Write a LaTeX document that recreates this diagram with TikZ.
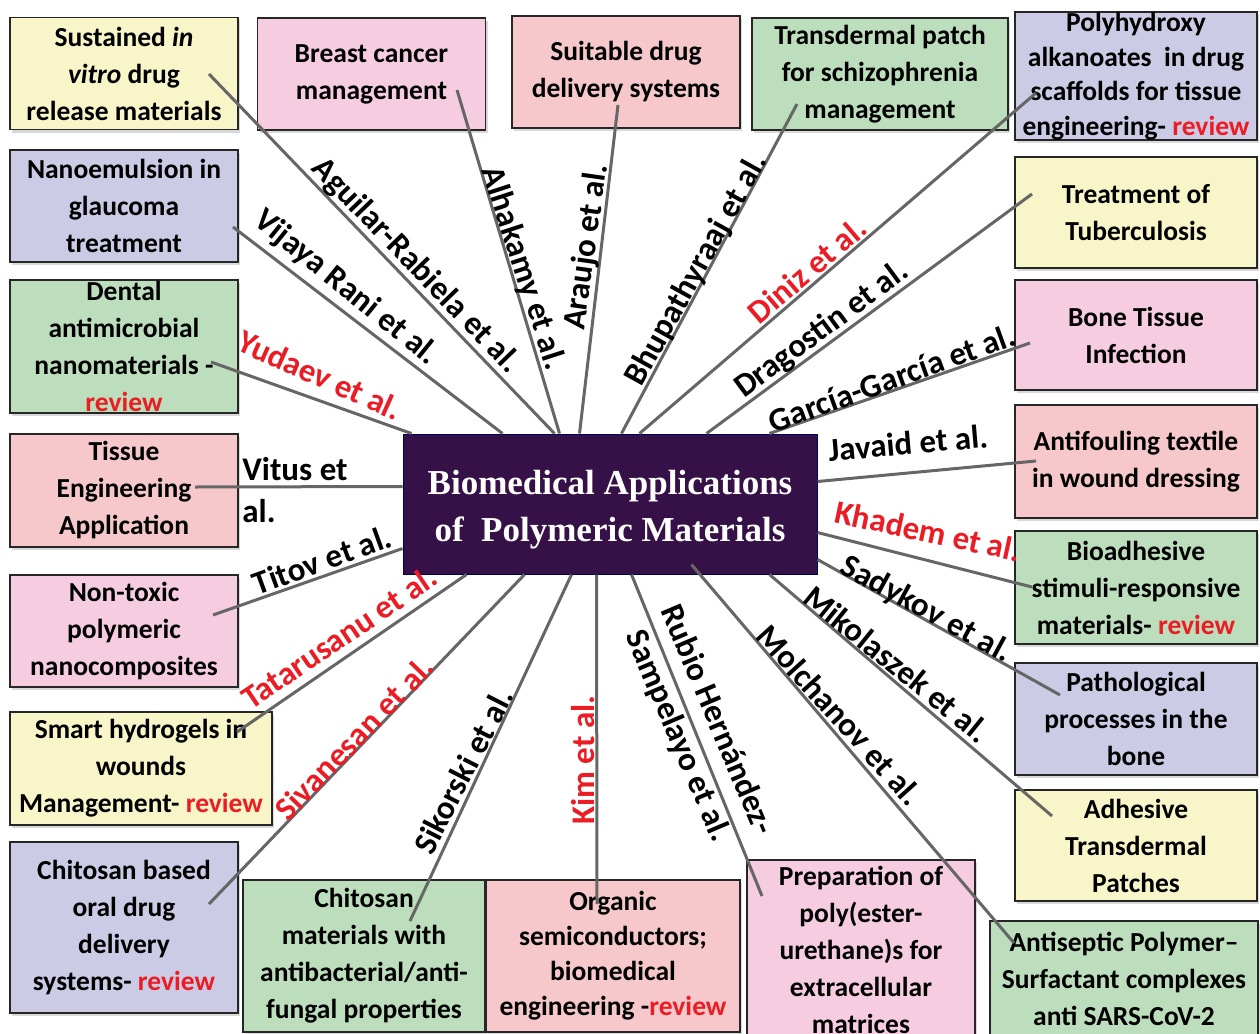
\documentclass[tikz,border=0pt]{standalone}
\usepackage{fontspec}
\setmainfont{Carlito}
\newfontfamily\hubfont{Liberation Serif}
\usepackage{tikz}
\usetikzlibrary{shadows}
\definecolor{paleyellow}{HTML}{F8F6C8}
\definecolor{palepink}{HTML}{F6CCE0}
\definecolor{salmon}{HTML}{F6C8CC}
\definecolor{palegreen}{HTML}{BCDEBC}
\definecolor{lavender}{HTML}{CCCBE6}
\definecolor{hubpurple}{HTML}{361148}
\definecolor{revred}{HTML}{EC1C24}
\newcommand{\revw}[1]{\textcolor{revred}{#1}}

\begin{document}
\begin{tikzpicture}[x=1pt, y=-1pt,
            every node/.style={inner sep=0pt},
            box/.style={draw=black!85, line width=1.6pt, align=center,
                minimum width=228pt, minimum height=112pt,
                font=\bfseries\fontsize{27.5}{37}\selectfont,
                drop shadow={opacity=0.3, shadow xshift=2pt, shadow yshift=-3pt}},
            yel/.style={box, fill=paleyellow},
            pnk/.style={box, fill=palepink},
            sal/.style={box, fill=salmon},
            grn/.style={box, fill=palegreen},
            lav/.style={box, fill=lavender},
            hub/.style={draw=blue!35!black, line width=1pt, fill=hubpurple,
                minimum width=414pt, minimum height=140pt, align=center,
                text height=83pt, text=white,
                font=\hubfont\bfseries\fontsize{35}{47}\selectfont},
            link/.style={draw=black!60, line width=3pt},
            lbl/.style={font=\bfseries\fontsize{33}{42}\selectfont},
            redlbl/.style={lbl, text=revred}]
    \useasboundingbox (0,0) rectangle (1260,1033);

    % application boxes
    \node[yel] (sustained)    at (124,73.5)  {Sustained \textit{in}\\\textit{vitro} drug\\release materials};
    \node[pnk] (breast)       at (371.5,74)  {Breast cancer\\management};
    \node[sal] (suitable)     at (626,72)    {Suitable drug\\delivery systems};
    \node[grn, minimum width=256pt] (transdermal) at (880,74) {Transdermal patch\\for schizophrenia\\management};
    \node[lav, minimum width=242pt, minimum height=128pt,
          font=\bfseries\fontsize{27.5}{34.5}\selectfont] (polyhydroxy) at (1136,76)
          {Polyhydroxy\\alkanoates\ \ in drug\\scaffolds for tissue\\engineering- \revw{review}};
    \node[lav] (nanoemulsion) at (124,206)   {Nanoemulsion in\\glaucoma\\treatment};
    \node[yel, minimum width=242pt, minimum height=111pt] (tuberculosis) at (1136,212.5) {Treatment of\\Tuberculosis};
    \node[grn, minimum height=133pt] (dental) at (124,346.5) {Dental\\antimicrobial\\nanomaterials -\\\revw{review}};
    \node[pnk, minimum width=242pt, minimum height=110pt] (bone) at (1136,335) {Bone Tissue\\Infection};
    \node[sal, minimum height=113pt] (tissue) at (124,490.5) {Tissue\\Engineering\\Application};
    \node[sal, minimum width=242pt, minimum height=113pt] (antifouling) at (1136,461.5) {Antifouling textile\\in wound dressing};
    \node[pnk] (nontoxic)     at (124,631)   {Non-toxic\\polymeric\\nanocomposites};
    \node[grn, minimum width=242pt, minimum height=113pt] (bioadhesive) at (1136,587.5) {Bioadhesive\\stimuli-responsive\\materials- \revw{review}};
    \node[yel, minimum width=262pt, minimum height=113pt] (hydrogels) at (141,768.5) {Smart hydrogels in\\wounds\\Management- \revw{review}};
    \node[lav, minimum width=242pt] (pathological) at (1136,719) {Pathological\\processes in the\\bone};
    \node[yel, minimum width=242pt, minimum height=111pt] (adhesive) at (1136,845.5) {Adhesive\\Transdermal\\Patches};
    \node[lav, minimum height=171pt] (chitosanoral) at (124,927.5) {Chitosan based\\oral drug\\delivery\\systems- \revw{review}};
    \node[grn, minimum width=242pt, minimum height=152pt] (chitosanmat) at (364,956) {Chitosan\\materials with\\antibacterial/anti-\\fungal properties};
    \node[sal, minimum width=254pt, minimum height=152pt,
          font=\bfseries\fontsize{27.5}{35}\selectfont] (organic) at (613,956)
          {Organic\\semiconductors;\\biomedical\\engineering -\revw{review}};
    \node[pnk, minimum height=180pt] (preparation) at (861,950) {Preparation of\\poly(ester-\\urethane)s for\\extracellular\\matrices};
    \node[grn, minimum width=268pt, minimum height=115pt] (antiseptic) at (1124,978.5) {Antiseptic Polymer–\\Surfactant complexes\\anti SARS-CoV-2};

    % central topic
    \node[hub] (biomed) at (610,504) {Biomedical Applications\\of~~Polymeric Materials};

    % line ends inside the boxes
    \coordinate (p-sustained)    at (209,74);
    \coordinate (p-breast)       at (457,90);
    \coordinate (p-suitable)     at (618,105);
    \coordinate (p-transdermal)  at (797,104);
    \coordinate (p-polyhydroxy)  at (1036,93);
    \coordinate (p-nanoemulsion) at (233,227);
    \coordinate (p-tuberculosis) at (1032,194);
    \coordinate (p-dental)       at (211,362);
    \coordinate (p-bone)         at (1030,343);
    \coordinate (p-tissue)       at (195,487);
    \coordinate (p-antifouling)  at (1036,461);
    \coordinate (p-nontoxic)     at (213,615);
    \coordinate (p-bioadhesive)  at (1032,587);
    \coordinate (p-hydrogels)    at (237,732);
    \coordinate (p-pathological) at (1060,695);
    \coordinate (p-adhesive)     at (1052,816);
    \coordinate (p-chitosanoral) at (209,904);
    \coordinate (p-chitosanmat)  at (410,921);
    \coordinate (p-organic)      at (597,904);
    \coordinate (p-preparation)  at (762,896);
    \coordinate (p-antiseptic)   at (1014,943);

    \path[link] (p-sustained)    edge ([xshift=152pt]biomed.north west)
                (p-breast)       edge ([xshift=157pt]biomed.north west)
                (p-suitable)     edge ([xshift=177pt]biomed.north west)
                (p-transdermal)  edge ([xshift=219pt]biomed.north west)
                (p-polyhydroxy)  edge ([xshift=237pt]biomed.north west)
                (p-nanoemulsion) edge ([xshift=100pt]biomed.north west)
                (p-dental)       edge ([xshift=9pt]biomed.north west)
                (p-tuberculosis) edge ([xshift=304pt]biomed.north west)
                (p-bone)         edge ([xshift=367pt]biomed.north west)
                (p-tissue)       edge ([yshift=-53pt]biomed.north west)
                (p-antifouling)  edge ([yshift=-48pt]biomed.north east)
                (p-nontoxic)     edge ([yshift=-115pt]biomed.north west)
                (p-bioadhesive)  edge ([yshift=-99pt]biomed.north east)
                (p-hydrogels)    edge ([xshift=64pt]biomed.south west)
                (p-pathological) edge ([yshift=-126pt]biomed.north east)
                (p-adhesive)     edge ([xshift=367pt]biomed.south west)
                (p-chitosanoral) edge ([xshift=122pt]biomed.south west)
                (p-chitosanmat)  edge ([xshift=169pt]biomed.south west)
                (p-organic)      edge ([xshift=194pt]biomed.south west)
                (p-preparation)  edge ([xshift=229pt]biomed.south west)
                (p-antiseptic)   edge ([xshift=289pt, yshift=10pt]biomed.south west);

    % author labels
    \node[lbl, rotate=-46]      (l-aguilar)     at (416,266) {Aguilar-Rabiela et al.};
    \node[lbl, rotate=-39]      (l-vijaya)      at (346,288) {Vijaya Rani et al.};
    \node[redlbl, rotate=-24]   (l-yudaev)      at (320,375) {Yudaev et al.};
    \node[lbl, rotate=-72]      (l-alhakamy)    at (523,268) {Alhakamy et al.};
    \node[lbl, rotate=82]       (l-araujo)      at (587,247) {Araujo et al.};
    \node[lbl, rotate=61]       (l-bhupathyraaj) at (697,270) {Bhupathyraaj et al.};
    \node[redlbl, rotate=40.5]  (l-diniz)       at (807,270) {Diniz et al.};
    \node[lbl, rotate=36.5]     (l-dragostin)   at (822,330) {Dragostin et al.};
    \node[lbl, rotate=20]       (l-garcia)      at (892,378) {García-García et al.};
    \node[lbl, rotate=5]        (l-javaid)      at (908,443) {Javaid et al.};
    \node[redlbl, rotate=-12]   (l-khadem)      at (928,531) {Khadem et al.};
    \node[lbl, rotate=-28.5]    (l-sadykov)     at (926,610) {Sadykov et al.};
    \node[lbl, rotate=-39]      (l-mikolaszek)  at (897,664) {Mikolaszek et al.};
    \node[lbl, rotate=-48]      (l-molchanov)   at (840,715) {Molchanov et al.};
    \node[lbl, rotate=-67, align=center] (l-rubio) at (697,728) {Rubio Hernández-\\Sampelayo et al.};
    \node[redlbl, rotate=90]    (l-kim)         at (583,760) {Kim et al.};
    \node[lbl, rotate=63]       (l-sikorski)    at (463,771) {Sikorski et al.};
    \node[redlbl, rotate=46]    (l-sivanesan)   at (354,738) {Sivanesan et al.};
    \node[redlbl, rotate=34]    (l-tatarusanu)  at (339,637) {Tatarusanu et al.};
    \node[lbl, rotate=20]       (l-titov)       at (322,560) {Titov et al.};
    \node[lbl, align=left]      (l-vitus)       at (295,490) {Vitus et\\al.};
\end{tikzpicture}
\end{document}
